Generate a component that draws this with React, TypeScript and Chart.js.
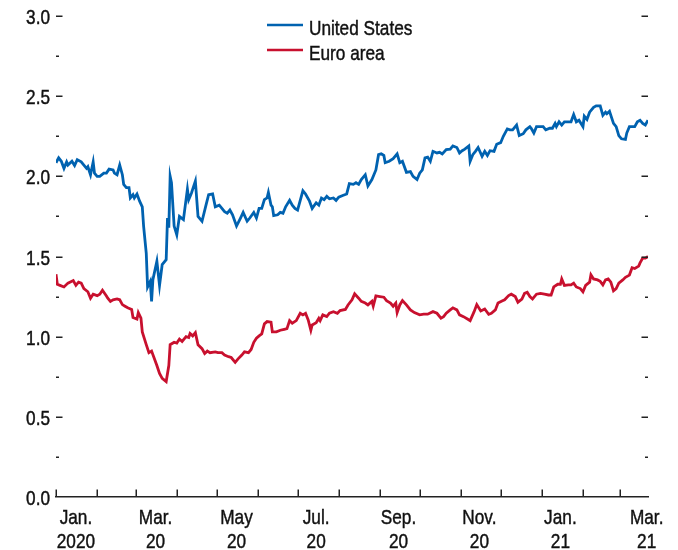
import React, { useEffect, useRef } from "react";
import { Chart, registerables } from "chart.js";

Chart.register(...registerables);

// ---- Data ----
// x values are days since 1 Jan 2020
const usDays = [
  0, 2, 4, 6, 8, 9, 12, 14, 16, 19, 21, 23, 24, 26, 28, 29, 31, 33, 36, 38, 40, 43, 44, 46, 48, 50, 51, 53, 55, 56,
  58, 59, 61, 63, 65, 66, 68, 69, 71, 72, 73, 76, 78, 80, 83, 84, 85, 86, 87, 89, 91, 93, 96, 99, 100, 102, 105, 107, 110, 113,
  115, 118, 120, 123, 125, 127, 129, 131, 133, 136, 139, 141, 144, 146, 149, 151, 153, 155, 157, 159, 160, 162, 163, 164, 167, 169, 171, 173, 176, 178,
  180, 182, 186, 188, 191, 193, 196, 198, 200, 202, 204, 206, 209, 211, 213, 216, 219, 221, 224, 226, 228, 230, 233, 235, 238, 241, 243, 245, 247, 248,
  251, 254, 257, 259, 261, 264, 267, 269, 272, 274, 276, 278, 280, 282, 284, 287, 289, 291, 294, 297, 299, 302, 304, 306, 308, 311, 312, 314, 316, 318,
  321, 323, 325, 327, 330, 332, 335, 337, 340, 342, 344, 347, 349, 352, 354, 357, 358, 360, 362, 365, 367, 369, 372, 374, 376, 377, 379, 381, 383, 386,
  388, 390, 392, 394, 397, 398, 400, 402, 405, 407, 410, 412, 414, 415, 417, 420, 422, 424, 426, 429, 430, 432, 434, 436, 438, 440, 442, 444, 446,
];
const usValues = [
  2.085, 2.115, 2.094, 2.05, 2.09, 2.07, 2.094, 2.067, 2.104, 2.09, 2.07, 2.05, 2.06, 2.01, 2.09, 2.02, 2.0, 2.0, 2.02, 2.02, 2.045, 2.04, 2.02, 2.01, 2.07, 2.01, 1.95, 1.93, 1.93, 1.865,
  1.885, 1.865, 1.89, 1.845, 1.81, 1.69, 1.52, 1.31, 1.345, 1.22, 1.355, 1.47, 1.32, 1.45, 1.48, 1.74, 1.68, 2.0, 1.96, 1.69, 1.635, 1.75, 1.73, 1.92, 1.855, 1.895, 1.97, 1.75, 1.72, 1.82,
  1.885, 1.89, 1.81, 1.82, 1.8, 1.78, 1.77, 1.79, 1.76, 1.69, 1.74, 1.775, 1.72, 1.74, 1.775, 1.74, 1.8, 1.8, 1.855, 1.865, 1.9, 1.82, 1.81, 1.755, 1.76, 1.775, 1.77, 1.81, 1.85, 1.82,
  1.8, 1.79, 1.91, 1.89, 1.845, 1.8, 1.835, 1.82, 1.865, 1.855, 1.875, 1.86, 1.865, 1.85, 1.87, 1.88, 1.89, 1.955, 1.95, 1.96, 1.95, 1.98, 2.01, 1.94, 1.98, 2.04, 2.135, 2.14, 2.13, 2.085,
  2.094, 2.11, 2.14, 2.085, 2.094, 2.025, 2.03, 2.0, 1.98, 2.02, 2.04, 2.115, 2.12, 2.094, 2.156, 2.146, 2.15, 2.14, 2.167, 2.17, 2.19, 2.18, 2.146, 2.16, 2.17, 2.19, 2.094, 2.135, 2.156, 2.18,
  2.125, 2.156, 2.13, 2.16, 2.156, 2.2, 2.21, 2.25, 2.296, 2.29, 2.29, 2.32, 2.254, 2.266, 2.29, 2.31, 2.3, 2.27, 2.31, 2.31, 2.31, 2.29, 2.3, 2.3, 2.33, 2.31, 2.34, 2.32, 2.34, 2.34,
  2.34, 2.385, 2.34, 2.35, 2.31, 2.375, 2.355, 2.4, 2.43, 2.44, 2.44, 2.38, 2.4, 2.39, 2.406, 2.33, 2.31, 2.254, 2.234, 2.23, 2.27, 2.31, 2.31, 2.31, 2.34, 2.35, 2.33, 2.32, 2.35,
];

const euDays = [
  0, 1, 3, 6, 9, 13, 15, 17, 19, 21, 24, 26, 28, 31, 33, 35, 38, 39, 41, 43, 46, 48, 50, 52, 54, 57, 58, 61, 62, 64,
  65, 68, 70, 72, 74, 76, 78, 80, 83, 85, 86, 89, 91, 93, 95, 98, 100, 101, 103, 105, 107, 110, 112, 114, 116, 120, 122, 125, 127, 130,
  132, 135, 137, 140, 142, 145, 147, 149, 151, 153, 155, 157, 159, 162, 163, 166, 169, 172, 174, 176, 178, 181, 184, 186, 188, 190, 192, 193, 196, 198,
  199, 201, 204, 206, 209, 212, 214, 218, 220, 223, 225, 228, 230, 233, 235, 238, 239, 241, 244, 247, 249, 252, 254, 256, 257, 259, 261, 264, 267, 270,
  274, 277, 280, 284, 287, 290, 292, 294, 297, 299, 302, 304, 307, 310, 312, 315, 317, 320, 323, 326, 328, 331, 333, 336, 338, 341, 343, 346, 348, 351,
  353, 355, 357, 359, 362, 365, 368, 371, 373, 375, 378, 380, 381, 383, 386, 388, 390, 392, 395, 397, 399, 402, 403, 405, 408, 410, 412, 414, 416, 418,
  420, 422, 424, 427, 429, 432, 434, 436, 439, 440, 442, 444, 446,
];
const euValues = [
  1.39, 1.327, 1.32, 1.31, 1.334, 1.35, 1.32, 1.34, 1.334, 1.3, 1.28, 1.24, 1.265, 1.256, 1.265, 1.29, 1.254, 1.24, 1.22, 1.23, 1.235, 1.23, 1.2, 1.19, 1.18, 1.17, 1.12, 1.11, 1.15, 1.115,
  1.03, 0.95, 0.9, 0.91, 0.865, 0.82, 0.77, 0.74, 0.72, 0.82, 0.95, 0.965, 0.96, 0.985, 0.97, 1.0, 0.995, 1.02, 1.005, 1.025, 0.95, 0.925, 0.895, 0.91, 0.9, 0.905, 0.9, 0.9, 0.885, 0.875,
  0.87, 0.84, 0.86, 0.885, 0.905, 0.9, 0.92, 0.965, 0.99, 1.005, 1.017, 1.08, 1.094, 1.09, 1.03, 1.03, 1.04, 1.046, 1.05, 1.1, 1.084, 1.1, 1.146, 1.136, 1.146, 1.104, 1.04, 1.073, 1.087, 1.115,
  1.1, 1.136, 1.125, 1.146, 1.156, 1.146, 1.163, 1.17, 1.198, 1.23, 1.267, 1.24, 1.22, 1.21, 1.198, 1.22, 1.19, 1.254, 1.25, 1.246, 1.225, 1.21, 1.19, 1.21, 1.15, 1.198, 1.225, 1.198, 1.167, 1.15,
  1.136, 1.14, 1.14, 1.156, 1.146, 1.115, 1.125, 1.146, 1.167, 1.18, 1.167, 1.136, 1.125, 1.11, 1.1, 1.156, 1.2, 1.16, 1.173, 1.14, 1.146, 1.167, 1.21, 1.223, 1.23, 1.256, 1.265, 1.25, 1.215, 1.235,
  1.27, 1.277, 1.25, 1.235, 1.265, 1.27, 1.265, 1.26, 1.26, 1.31, 1.327, 1.327, 1.36, 1.32, 1.323, 1.323, 1.334, 1.31, 1.3, 1.28, 1.32, 1.34, 1.386, 1.36, 1.354, 1.345, 1.323, 1.354, 1.36, 1.34,
  1.286, 1.3, 1.334, 1.354, 1.37, 1.384, 1.43, 1.425, 1.44, 1.46, 1.49, 1.49, 1.5,
];

// Month-start days (tick marks) and label positions / texts
const monthTickDays = [0, 31, 60, 91, 121, 152, 182, 213, 244, 274, 305, 335, 366, 397, 425];
const labelDays = [15, 75, 136, 196, 258, 319, 380, 445];
const labelTexts = [
  ["Jan.", "2020"],
  ["Mar.", "20"],
  ["May", "20"],
  ["Jul.", "20"],
  ["Sep.", "20"],
  ["Nov.", "20"],
  ["Jan.", "21"],
  ["Mar.", "21"],
];
const seriesNames = ["United States", "Euro area"];

const FONT = "'Liberation Sans', Arial, sans-serif";
const FONT_SIZE = 21;
const CONDENSE = 0.82;
const TEXT = "#111111";
const AXIS = "#222222";

const isMajor = (v: number) => Math.abs(v * 2 - Math.round(v * 2)) < 1e-6;
const yLabel = (v: number) => (isMajor(v) ? v.toFixed(1) : "");

function narrowText(ctx: CanvasRenderingContext2D, text: string, x: number, y: number, align: CanvasTextAlign) {
  ctx.save();
  ctx.translate(x, y);
  ctx.scale(CONDENSE, 1);
  ctx.textAlign = align;
  ctx.textBaseline = "alphabetic";
  ctx.fillStyle = TEXT;
  ctx.strokeStyle = TEXT;
  ctx.lineWidth = 0.45;
  ctx.fillText(text, 0, 0);
  ctx.strokeText(text, 0, 0);
  ctx.restore();
}

const ticksPlugin = {
  id: "customTicks",
  afterDraw(chart: any) {
    const { ctx, chartArea, scales } = chart;
    const y = scales.y;
    const x = scales.x;
    ctx.save();
    ctx.font = `${FONT_SIZE}px ${FONT}`;
    // y ticks, inward on both sides, plus labels on the left
    y.ticks.forEach((t: any) => {
      const py = Math.round(y.getPixelForValue(t.value)) + 0.25;
      const major = isMajor(t.value);
      const lbl = yLabel(t.value);
      if (lbl) narrowText(ctx, lbl, chartArea.left - 6, py + 7.5, "right");
      if (t.value === 0) return;
      const len = major ? 6.5 : 3;
      ctx.strokeStyle = AXIS;
      ctx.lineWidth = 1.5;
      ctx.beginPath();
      ctx.moveTo(chartArea.left, py);
      ctx.lineTo(chartArea.left + len, py);
      ctx.moveTo(chartArea.right, py);
      ctx.lineTo(chartArea.right - len, py);
      ctx.stroke();
    });
    // x month ticks, upward
    ctx.strokeStyle = AXIS;
    ctx.lineWidth = 1.5;
    monthTickDays.forEach((d) => {
      const px = Math.round(x.getPixelForValue(d)) + 0.25;
      ctx.beginPath();
      ctx.moveTo(px, chartArea.bottom);
      ctx.lineTo(px, chartArea.bottom - 7.5);
      ctx.stroke();
    });
    // x labels
    x.ticks.forEach((t: any, i: number) => {
      const px = x.getPixelForValue(t.value);
      const lines = labelTexts[i] || [];
      lines.forEach((s: string, j: number) => {
        narrowText(ctx, s, px, chartArea.bottom + 26.5 + j * 24, "center");
      });
    });
    // legend
    const lx = 267;
    const ly = [25, 50];
    chart.data.datasets.forEach((ds: any, i: number) => {
      ctx.strokeStyle = ds.borderColor;
      ctx.lineWidth = 2.5;
      ctx.beginPath();
      ctx.moveTo(lx, ly[i]);
      ctx.lineTo(lx + 36, ly[i]);
      ctx.stroke();
      narrowText(ctx, ds.label, lx + 42, ly[i] + 10, "left");
    });
    ctx.restore();
  },
};

export default function App() {
  const ref = useRef<HTMLCanvasElement | null>(null);
  useEffect(() => {
    if (!ref.current) return;
    const chart = new Chart(ref.current, {
      type: "line",
      data: {
        datasets: [
          {
            label: seriesNames[0],
            data: usDays.map((d, i) => ({ x: d, y: usValues[i] })),
            borderColor: "#0062b0",
            borderWidth: 2.8,
            pointRadius: 0,
            tension: 0,
          },
          {
            label: seriesNames[1],
            data: euDays.map((d, i) => ({ x: d, y: euValues[i] })),
            borderColor: "#c8102e",
            borderWidth: 2.8,
            pointRadius: 0,
            tension: 0,
          },
        ],
      },
      options: {
        responsive: false,
        animation: false,
        layout: { padding: { top: 16, right: 30, left: 0, bottom: 0 } },
        plugins: { legend: { display: false }, tooltip: { enabled: false } },
        scales: {
          x: {
            type: "linear",
            min: 0,
            max: 446,
            grid: { display: false, drawTicks: false },
            border: { display: true, color: AXIS, width: 1.5 },
            afterBuildTicks: (scale: any) => {
              scale.ticks = labelDays.map((v) => ({ value: v }));
            },
            afterFit: (scale: any) => {
              scale.height = 53;
            },
            ticks: {
              display: false,
              autoSkip: false,
              maxRotation: 0,
              callback: (_v: any, i: number) => labelTexts[i],
            },
          },
          y: {
            min: 0,
            max: 3,
            grid: { display: false, drawTicks: false },
            border: { display: false },
            afterFit: (scale: any) => {
              scale.width = 56;
            },
            ticks: {
              display: false,
              stepSize: 0.25,
              callback: (v: any) => yLabel(Number(v)),
            },
          },
        },
      },
      plugins: [ticksPlugin],
    });
    return () => chart.destroy();
  }, []);
  return (
    <div style={{ position: "absolute", left: 0, top: 0, width: 678, height: 550, background: "#fff" }}>
      <canvas ref={ref} width={678} height={550} style={{ display: "block", width: 678, height: 550 }} />
    </div>
  );
}
